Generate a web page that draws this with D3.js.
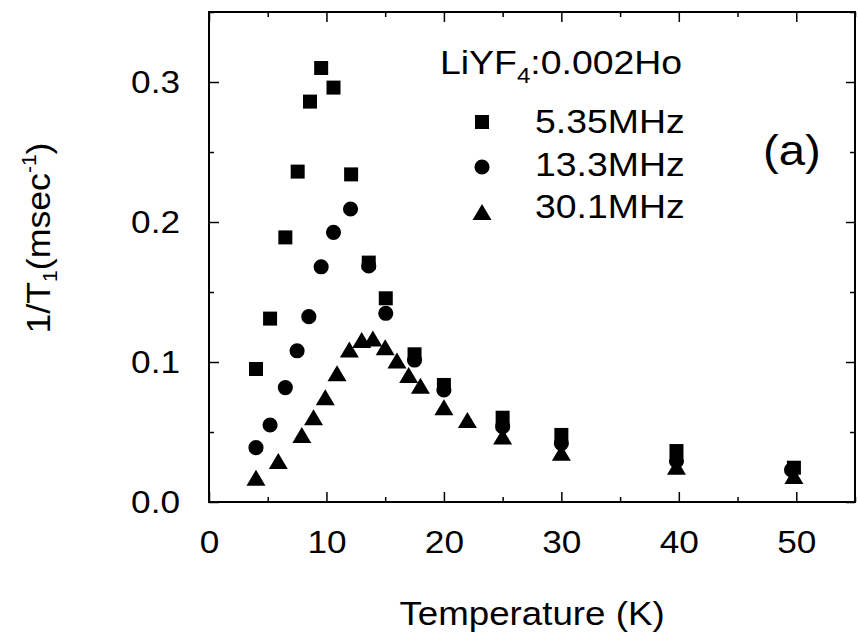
<!DOCTYPE html>
<meta charset="utf-8">
<style>
    body { margin: 0; background: #fff; }
    text { font-family: "Liberation Sans", Arial, sans-serif; fill: #000; }
</style>
<body>
<div id="chart"></div>
<script src="https://d3js.org/d3.v7.min.js"></script>
<script>
// 1/T1 vs temperature, LiYF4:0.002Ho
var temp535 = [4.0, 5.2, 6.5, 7.55, 8.6, 9.55, 10.6, 12.1, 13.6, 15.05, 17.5, 20.0, 25.0, 30.0, 39.8, 49.8];
var rate535 = [0.095, 0.131, 0.189, 0.236, 0.286, 0.310, 0.296, 0.234, 0.171, 0.1455, 0.1055, 0.0836, 0.0602, 0.0479, 0.0364, 0.0245];

var temp133 = [4.0, 5.2, 6.5, 7.5, 8.5, 9.55, 10.6, 12.05, 13.6, 15.05, 17.5, 20.0, 25.0, 30.0, 39.8, 49.6];
var rate133 = [0.0388, 0.055, 0.0817, 0.108, 0.1324, 0.168, 0.1926, 0.2093, 0.1686, 0.1348, 0.1014, 0.080, 0.0538, 0.0419, 0.0293, 0.0229];

var temp301 = [4.0, 5.9, 7.9, 8.9, 9.9, 10.9, 11.95, 13.0, 13.95, 15.0, 16.0, 17.0, 18.0, 20.0, 22.0, 25.0, 30.0, 39.8, 49.8];
var rate301 = [0.0174, 0.0293, 0.0479, 0.0605, 0.0748, 0.0919, 0.109, 0.1157, 0.1167, 0.1105, 0.101, 0.0907, 0.0831, 0.0676, 0.0586, 0.0467, 0.0352, 0.0252, 0.0186];

var seriesNames = ["5.35MHz", "13.3MHz", "30.1MHz"];
var xMajor = [0, 10, 20, 30, 40, 50];
var xMinor = [5, 15, 25, 35, 45, 55];
var yMajor = [0.0, 0.1, 0.2, 0.3];
var yMinor = [0.05, 0.15, 0.25, 0.35];

var width = 858, height = 642;
var margin = {top: 12, right: 3, bottom: 140, left: 209};
var w = width - margin.left - margin.right,
    h = height - margin.top - margin.bottom;

var x = d3.scaleLinear().domain([0, 55]).range([0, w]);
var y = d3.scaleLinear().domain([0, 0.35]).range([h, 0]);

var svg = d3.select("#chart").append("svg")
    .attr("width", width)
    .attr("height", height);

var g = svg.append("g")
    .attr("transform", "translate(" + margin.left + "," + margin.top + ")");

// stretch text a bit horizontally, the original fonts are wide
var SX = 1.1;
function stretch(sel, sx) {
    sel.each(function() {
        var t = d3.select(this);
        var tx = +t.attr("x") || 0, ty = +t.attr("y") || 0;
        t.attr("x", 0).attr("y", 0)
            .attr("transform", "translate(" + tx + "," + ty + ") scale(" + sx + ",1)");
    });
}

function tidy(sel) {
    sel.select(".domain").remove();
    sel.selectAll(".tick line").attr("stroke", "#000").attr("stroke-width", 1.5);
}

// bottom
var bx = g.append("g").attr("transform", "translate(0," + h + ")")
    .call(d3.axisBottom(x).tickValues(xMajor).tickSize(-10).tickPadding(28).tickFormat(d3.format("d")));
tidy(bx);
bx.selectAll("text").attr("font-size", 32).attr("font-family", null);
stretch(bx.selectAll("text"), SX);
g.append("g").attr("transform", "translate(0," + h + ")")
    .call(d3.axisBottom(x).tickValues(xMinor).tickSize(-5).tickFormat("")).call(tidy);

// top
g.append("g").call(d3.axisTop(x).tickValues(xMajor).tickSize(-10).tickFormat("")).call(tidy);
g.append("g").call(d3.axisTop(x).tickValues(xMinor).tickSize(-5).tickFormat("")).call(tidy);

// left
var ly = g.append("g")
    .call(d3.axisLeft(y).tickValues(yMajor).tickSize(-10).tickPadding(29).tickFormat(d3.format(".1f")));
tidy(ly);
ly.selectAll("text").attr("font-size", 32).attr("font-family", null);
stretch(ly.selectAll("text"), SX);
g.append("g").call(d3.axisLeft(y).tickValues(yMinor).tickSize(-5).tickFormat("")).call(tidy);

// right
g.append("g").attr("transform", "translate(" + w + ",0)")
    .call(d3.axisRight(y).tickValues(yMajor).tickSize(-9).tickFormat("")).call(tidy);
g.append("g").attr("transform", "translate(" + w + ",0)")
    .call(d3.axisRight(y).tickValues(yMinor).tickSize(-5).tickFormat("")).call(tidy);

// frame
g.append("rect")
    .attr("width", w).attr("height", h)
    .attr("fill", "none").attr("stroke", "#000").attr("stroke-width", 2);

// markers
var tri = {
    draw: function(ctx, size) {
        var hw = 9.5, hh = 8;
        ctx.moveTo(0, -hh);
        ctx.lineTo(hw, hh);
        ctx.lineTo(-hw, hh);
        ctx.closePath();
    }
};
var shapes = [
    d3.symbol().type(d3.symbolSquare).size(196),
    d3.symbol().type(d3.symbolCircle).size(180),
    d3.symbol().type(tri).size(1)
];

var series = [
    {t: temp535, r: rate535},
    {t: temp133, r: rate133},
    {t: temp301, r: rate301}
];

series.forEach(function(s, i) {
    g.append("g").selectAll("path")
        .data(d3.range(s.t.length))
        .enter().append("path")
        .attr("transform", function(j) {
            return "translate(" + x(s.t[j]) + "," + y(s.r[j]) + ")";
        })
        .attr("d", shapes[i])
        .attr("fill", "#000");
});

// legend
var title = svg.append("text").attr("x", 440).attr("y", 74).attr("font-size", 34);
title.append("tspan").text("LiYF");
title.append("tspan").attr("font-size", 22).attr("dy", 9).text("4");
title.append("tspan").attr("dy", -9).text(":0.002Ho");
stretch(title, SX);

var leg = svg.append("g");
seriesNames.forEach(function(name, i) {
    leg.append("path").attr("d", shapes[i]).attr("fill", "#000")
        .attr("transform", "translate(482," + (122 + i * 45) + ")");
    var t = leg.append("text").attr("x", 535).attr("y", 133 + i * 42.5)
        .attr("font-size", 34).text(name);
    stretch(t, SX);
});

// panel label
var pl = svg.append("text").attr("x", 763).attr("y", 165).attr("font-size", 43).text("(a)");
stretch(pl, SX);

// axis titles
var xl = svg.append("text")
    .attr("x", margin.left + w / 2)
    .attr("y", 625)
    .attr("text-anchor", "middle")
    .attr("font-size", 34)
    .text("Temperature (K)");
stretch(xl, 1.08);

var yl = svg.append("text")
    .attr("transform", "translate(50,238) rotate(-90) scale(1.05,1)")
    .attr("text-anchor", "middle")
    .attr("font-size", 34);
yl.append("tspan").text("1/T");
yl.append("tspan").attr("font-size", 20).attr("dy", 7).text("1");
yl.append("tspan").attr("dy", -7).text("(msec");
yl.append("tspan").attr("font-size", 20).attr("dy", -14).text("-1");
yl.append("tspan").attr("dy", 14).text(")");
</script>
</body>
</html>
